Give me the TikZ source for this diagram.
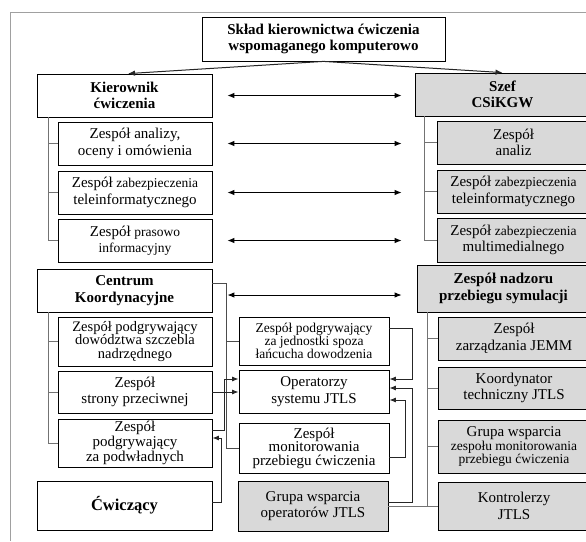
\documentclass[tikz,border=0pt]{standalone}
\usepackage{fontspec}
\setmainfont{Liberation Serif}
\usetikzlibrary{arrows.meta}
\definecolor{boxgray}{RGB}{217,217,217}
\definecolor{framegray}{RGB}{160,160,160}
\newcommand{\fs}{\fontsize{15}{16.5}\selectfont}
\newcommand{\sm}{\fontsize{13.5}{16.5}\selectfont}
\newcommand{\tight}{\fontsize{14.5}{13.5}\selectfont}
\newcommand{\tightsm}{\fontsize{13.5}{13}\selectfont}
\newcommand{\tightlg}{\fontsize{15}{13.5}\selectfont}
\tikzset{
  box/.style={draw, line width=0.8pt, inner sep=0pt, align=center, font=\fs},
  gbox/.style={box, fill=boxgray},
  bbox/.style={box, font=\fs\bfseries},
  gbbox/.style={gbox, font=\fs\bfseries},
  tip/.style={-{Latex[length=6.5pt,width=5pt]}},
  dbl/.style={{Latex[length=7pt,width=5.5pt]}-{Latex[length=7pt,width=5.5pt]}, line width=0.9pt},
  tree/.style={draw=black!55, line width=0.7pt},
  conn/.style={draw=black!85, line width=0.9pt},
  lead/.style={draw=black!85, line width=1pt, -{Latex[length=7pt,width=5.5pt]}},
}
\begin{document}
\begin{tikzpicture}[x=1pt,y=-1pt]
\useasboundingbox (0,0) rectangle (586,541);
\clip (0,0) rectangle (586,541);
\fill[white] (0,0) rectangle (586,541);
% outer frame (top and left edges)
\draw[framegray, line width=0.8pt] (10.5,541) -- (10.5,12) -- (586,12);

% top level
\node[bbox, minimum width=243pt, minimum height=44pt] (title) at (323.5,39)
  {Skład kierownictwa ćwiczenia\\wspomaganego komputerowo};

% left upper column
\node[bbox, minimum width=175pt, minimum height=43pt] (kier) at (124.5,95.5) {Kierownik\\ćwiczenia};
\node[box, minimum width=154pt, minimum height=43pt] (l1) at (135,143.5) {Zespół analizy,\\oceny i omówienia};
\node[box, minimum width=154pt, minimum height=43pt] (l2) at (135,192.5) {Zespół {\sm zabezpieczenia}\\teleinformatycznego};
\node[box, minimum width=154pt, minimum height=43pt] (l3) at (135,240.5) {Zespół {\sm prasowo}\\{\sm informacyjny}};

% right upper column
\node[gbbox, minimum width=175pt, minimum height=43pt] (szef) at (502.5,94.5) {Szef\\CSiKGW};
\node[gbox, minimum width=153pt, minimum height=43pt] (r1) at (513.5,142.5) {Zespół\\analiz};
\node[gbox, minimum width=153pt, minimum height=43pt] (r2) at (513.5,191.5) {Zespół {\sm zabezpieczenia}\\teleinformatycznego};
\node[gbox, minimum width=153pt, minimum height=44pt] (r3) at (513.5,240) {Zespół {\sm zabezpieczenia}\\multimedialnego};

% left lower column
\node[bbox, minimum width=175pt, minimum height=43pt] (centrum) at (124.5,290.5) {Centrum\\Koordynacyjne};
\node[box, minimum width=154pt, minimum height=49pt, font=\tight] (ll1) at (135,341.5) {Zespół podgrywający\\dowództwa szczebla\\nadrzędnego};
\node[box, minimum width=154pt, minimum height=42pt] (ll2) at (135,392) {Zespół\\strony przeciwnej};
\node[box, minimum width=154pt, minimum height=48pt, font=\tightlg] (ll3) at (135,443) {Zespół\\podgrywający\\za podwładnych};
\node[box, minimum width=175pt, minimum height=49pt, font=\fontsize{16.5}{18}\selectfont\bfseries] (cwicz) at (124.5,505.5) {Ćwiczący};

% middle column
\node[box, minimum width=150pt, minimum height=48pt, font=\tightsm] (m1) at (314,341) {Zespół podgrywający\\za jednostki spoza\\łańcucha dowodzenia};
\node[box, minimum width=150pt, minimum height=43pt] (m2) at (314,391.5) {Operatorzy\\systemu JTLS};
\node[box, minimum width=150pt, minimum height=50pt, font=\tightlg] (m3) at (314,448) {Zespół\\monitorowania\\przebiegu ćwiczenia};
\node[gbox, minimum width=150pt, minimum height=50pt] (m4) at (313,506) {Grupa wsparcia\\operatorów JTLS};

% right lower column
\node[gbbox, minimum width=173pt, minimum height=47pt] (nadzor) at (503.5,288.5) {Zespół nadzoru\\przebiegu symulacji};
\node[gbox, minimum width=152pt, minimum height=43pt] (rr1) at (514,338.5) {Zespół\\zarządzania JEMM};
\node[gbox, minimum width=152pt, minimum height=42pt] (rr2) at (514,388) {Koordynator\\techniczny JTLS};
\node[gbox, minimum width=152pt, minimum height=53pt, font=\fontsize{15}{13.5}\selectfont] (rr3) at (514,446.5) {Grupa wsparcia\\{\tightsm zespołu monitorowania}\\{\tightsm przebiegu ćwiczenia}};
\node[gbox, minimum width=152pt, minimum height=48pt] (rr4) at (514,506) {Kontrolerzy\\JTLS};

% leads from the top box
\draw[lead] (title.south) -- ([xshift=3.5pt]kier.north);
\draw[lead] (title.south) -- (szef.north);

% counterpart arrows between the two columns
\draw[dbl] ([xshift=15pt]kier.east) -- ([xshift=-13pt]kier.east -| szef.west);
\draw[dbl] ([xshift=15pt]l1.east) -- ([xshift=-35pt]l1.east -| r1.west);
\draw[dbl] ([xshift=15pt]l2.east) -- ([xshift=-35pt]l2.east -| r2.west);
\draw[dbl] ([xshift=15pt]l3.east) -- ([xshift=-35pt]l3.east -| r3.west);
\draw[dbl] ([xshift=15pt,yshift=-4.5pt]centrum.east) -- ([xshift=-15pt,yshift=-6.5pt]nadzor.west);

% subordination trees
\draw[tree] ([xshift=12pt]kier.south west) |- (l3.west);
\draw[tree] ([xshift=12pt]kier.south west) |- (l1.west);
\draw[tree] ([xshift=12pt]kier.south west) |- (l2.west);
\draw[tree] ([xshift=10pt]szef.south west) |- (r3.west);
\draw[tree] ([xshift=10pt]szef.south west) |- (r1.west);
\draw[tree] ([xshift=10pt]szef.south west) |- (r2.west);
\draw[tree] ([xshift=12pt]centrum.south west) |- (ll3.west);
\draw[tree] ([xshift=12pt]centrum.south west) |- (ll1.west);
\draw[tree] ([xshift=12pt]centrum.south west) |- (ll2.west);
\draw[tree] ([xshift=11pt]nadzor.south west) |- (rr4.west);
\draw[tree] ([xshift=11pt]nadzor.south west) |- (rr1.west);
\draw[tree] ([xshift=11pt]nadzor.south west) |- (rr2.west);
\draw[tree] ([xshift=11pt]nadzor.south west) |- (rr3.west);
\draw[tree] (m4.east) -- (rr4.west);

% coordination centre to the middle column
\draw[conn, draw=black!70] ([yshift=7.5pt]centrum.east) -| ([xshift=-12pt]m3.west) -- (m3.west);
\draw[conn, draw=black!70] ([xshift=-12pt]m1.west) -- (m1.west);

% links into the JTLS operators
\draw[conn, tip] (ll2.east) -- (ll2.east -| m2.west);
\draw[conn, tip] ([yshift=13pt]ll3.east) -| ([xshift=-14pt,yshift=12.5pt]m2.west) -- ([yshift=12.5pt]m2.west);
\draw[conn, tip] ([yshift=3.5pt]cwicz.east) -| ([xshift=9pt,yshift=5pt]ll3.east) -- ([yshift=5pt]ll3.east);
\draw[conn, tip] ([yshift=13pt]m1.east) -| ([xshift=23pt,yshift=12.5pt]m2.east) -- ([yshift=12.5pt]m2.east);
\draw[conn, tip] ([yshift=4pt]m4.east) -| ([xshift=23pt,yshift=3.5pt]m2.east) -- ([yshift=3.5pt]m2.east);
\draw[conn, tip] ([yshift=-9pt]m3.east) -| ([xshift=16pt,yshift=-8.5pt]m2.east) -- ([yshift=-8.5pt]m2.east);
\end{tikzpicture}
\end{document}
